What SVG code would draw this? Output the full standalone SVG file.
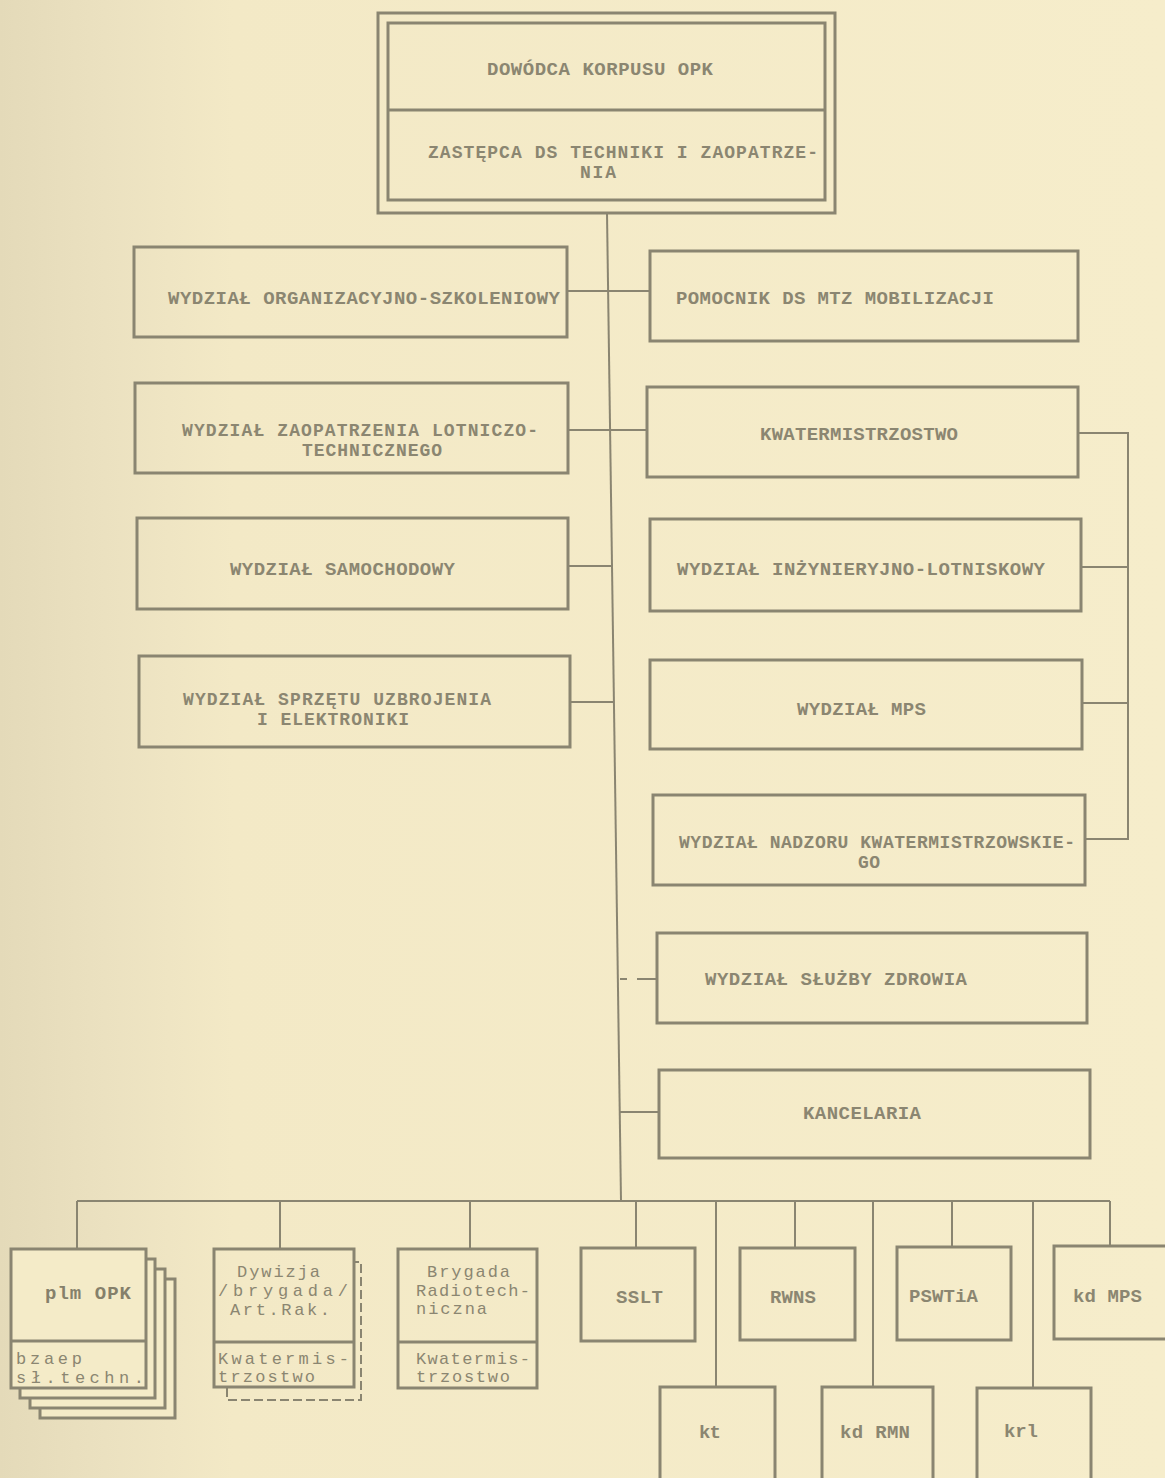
<svg xmlns="http://www.w3.org/2000/svg" width="1165" height="1478" viewBox="0 0 1165 1478">
<defs>
<linearGradient id="paper" x1="0" y1="0" x2="1" y2="0">
<stop offset="0" stop-color="#e4dab9"/>
<stop offset="0.09" stop-color="#ebe1c0"/>
<stop offset="0.2" stop-color="#f3e9c6"/>
<stop offset="1" stop-color="#f6edcb"/>
</linearGradient>
<style>
.box{fill:none;stroke:#8a8571;stroke-width:3}
.boxf{fill:#f4ebc8;stroke:#8a8571;stroke-width:3}
.ln{fill:none;stroke:#8a8571;stroke-width:2}
.dash{fill:none;stroke:#8a8571;stroke-width:2;stroke-dasharray:9 4}
.t{font-family:"Liberation Mono","DejaVu Sans Mono",monospace;font-size:19px;font-weight:bold;fill:#8b8671}
.t2{font-family:"Liberation Mono","DejaVu Sans Mono",monospace;font-size:18px;font-weight:bold;fill:#8b8671}
.tl{font-family:"Liberation Mono","DejaVu Sans Mono",monospace;font-size:17px;fill:#8b8671}
.tb{font-family:"Liberation Mono","DejaVu Sans Mono",monospace;font-size:19px;font-weight:bold;fill:#85806b}
</style>
</defs>
<rect x="0" y="0" width="1165" height="1478" fill="url(#paper)"/>

<g id="connectors">
<line class="ln" x1="607" y1="213" x2="621" y2="1201"/>
<line class="ln" x1="567" y1="291" x2="650" y2="291"/>
<line class="ln" x1="568" y1="430" x2="647" y2="430"/>
<line class="ln" x1="568" y1="566" x2="612" y2="566"/>
<line class="ln" x1="570" y1="702" x2="614" y2="702"/>
<path class="ln" d="M1078,433 H1128 V839 H1085"/>
<line class="ln" x1="1081" y1="567" x2="1128" y2="567"/>
<line class="ln" x1="1082" y1="703" x2="1128" y2="703"/>
<line class="ln" x1="620" y1="979" x2="627" y2="979"/>
<line class="ln" x1="637" y1="979" x2="657" y2="979"/>
<line class="ln" x1="620" y1="1112" x2="659" y2="1112"/>
<line class="ln" x1="77" y1="1201" x2="1110" y2="1201"/>
<line class="ln" x1="77" y1="1201" x2="77" y2="1249"/>
<line class="ln" x1="280" y1="1201" x2="280" y2="1249"/>
<line class="ln" x1="470" y1="1201" x2="470" y2="1249"/>
<line class="ln" x1="636" y1="1201" x2="636" y2="1248"/>
<line class="ln" x1="716" y1="1201" x2="716" y2="1387"/>
<line class="ln" x1="795" y1="1201" x2="795" y2="1248"/>
<line class="ln" x1="873" y1="1201" x2="873" y2="1387"/>
<line class="ln" x1="952" y1="1201" x2="952" y2="1247"/>
<line class="ln" x1="1033" y1="1201" x2="1033" y2="1388"/>
<line class="ln" x1="1110" y1="1201" x2="1110" y2="1246"/>
</g>

<g id="dowodca">
<rect class="box" x="378" y="13" width="457" height="200" stroke-width="3.5"/>
<rect class="box" x="388" y="23" width="437" height="177"/>
<line class="box" x1="388" y1="110" x2="825" y2="110"/>
<text class="t" x="487" y="75" textLength="226" lengthAdjust="spacing">DOWÓDCA KORPUSU OPK</text>
<text class="t2" x="428" y="158" textLength="390" lengthAdjust="spacing">ZASTĘPCA DS TECHNIKI I ZAOPATRZE-</text>
<text class="t2" x="580" y="178" textLength="36" lengthAdjust="spacing">NIA</text>
</g>

<g id="wydz-org">
<rect class="box" x="134" y="247" width="433" height="90"/>
<text class="t" x="168" y="304" textLength="392" lengthAdjust="spacing">WYDZIAŁ ORGANIZACYJNO-SZKOLENIOWY</text>
</g>
<g id="wydz-zaop">
<rect class="box" x="135" y="383" width="433" height="90"/>
<text class="t2" x="182" y="436" textLength="356" lengthAdjust="spacing">WYDZIAŁ ZAOPATRZENIA LOTNICZO-</text>
<text class="t2" x="302" y="456" textLength="140" lengthAdjust="spacing">TECHNICZNEGO</text>
</g>
<g id="wydz-sam">
<rect class="box" x="137" y="518" width="431" height="91"/>
<text class="t" x="230" y="575" textLength="225" lengthAdjust="spacing">WYDZIAŁ SAMOCHODOWY</text>
</g>
<g id="wydz-sprz">
<rect class="box" x="139" y="656" width="431" height="91"/>
<text class="t2" x="183" y="705" textLength="308" lengthAdjust="spacing">WYDZIAŁ SPRZĘTU UZBROJENIA</text>
<text class="t2" x="257" y="725" textLength="152" lengthAdjust="spacing">I ELEKTRONIKI</text>
</g>

<g id="pomocnik">
<rect class="box" x="650" y="251" width="428" height="90"/>
<text class="t" x="676" y="304" textLength="318" lengthAdjust="spacing">POMOCNIK DS MTZ MOBILIZACJI</text>
</g>
<g id="kwatermistrzostwo">
<rect class="box" x="647" y="387" width="431" height="90"/>
<text class="t" x="760" y="440" textLength="198" lengthAdjust="spacing">KWATERMISTRZOSTWO</text>
</g>
<g id="wydz-inz">
<rect class="box" x="650" y="519" width="431" height="92"/>
<text class="t" x="677" y="575" textLength="368" lengthAdjust="spacing">WYDZIAŁ INŻYNIERYJNO-LOTNISKOWY</text>
</g>
<g id="wydz-mps">
<rect class="box" x="650" y="660" width="432" height="89"/>
<text class="t" x="797" y="715" textLength="129" lengthAdjust="spacing">WYDZIAŁ MPS</text>
</g>
<g id="wydz-nadzoru">
<rect class="box" x="653" y="795" width="432" height="90"/>
<text class="t2" x="679" y="848" textLength="396" lengthAdjust="spacing">WYDZIAŁ NADZORU KWATERMISTRZOWSKIE-</text>
<text class="t2" x="858" y="868" textLength="22" lengthAdjust="spacing">GO</text>
</g>
<g id="wydz-zdrowia">
<rect class="box" x="657" y="933" width="430" height="90"/>
<text class="t" x="705" y="985" textLength="262" lengthAdjust="spacing">WYDZIAŁ SŁUŻBY ZDROWIA</text>
</g>
<g id="kancelaria">
<rect class="box" x="659" y="1070" width="431" height="88"/>
<text class="t" x="803" y="1119" textLength="118" lengthAdjust="spacing">KANCELARIA</text>
</g>

<g id="plm-opk">
<rect class="boxf" x="40" y="1279" width="135" height="139"/>
<rect class="boxf" x="30" y="1269" width="135" height="139"/>
<rect class="boxf" x="20" y="1259" width="135" height="139"/>
<rect class="boxf" x="11" y="1249" width="135" height="139"/>
<line class="box" x1="11" y1="1341" x2="146" y2="1341"/>
<text class="tb" x="45" y="1299" textLength="86" lengthAdjust="spacing">plm OPK</text>
<text class="tl" x="16" y="1364" textLength="66" lengthAdjust="spacing">bzaep</text>
<text class="tl" x="16" y="1383" textLength="128" lengthAdjust="spacing">sł.techn.</text>
</g>
<g id="dywizja">
<path class="dash" d="M227,1388 V1400 H361 V1262 H355"/>
<rect class="box" x="214" y="1249" width="140" height="138"/>
<line class="box" x1="214" y1="1342" x2="354" y2="1342"/>
<text class="tl" x="237" y="1277" textLength="83" lengthAdjust="spacing">Dywizja</text>
<text class="tl" x="218" y="1296" textLength="130" lengthAdjust="spacing">/brygada/</text>
<text class="tl" x="230" y="1315" textLength="100" lengthAdjust="spacing">Art.Rak.</text>
<text class="tl" x="218" y="1364" textLength="131" lengthAdjust="spacing">Kwatermis-</text>
<text class="tl" x="218" y="1382" textLength="97" lengthAdjust="spacing">trzostwo</text>
</g>
<g id="brygada">
<rect class="box" x="398" y="1249" width="139" height="139"/>
<line class="box" x1="398" y1="1342" x2="537" y2="1342"/>
<text class="tl" x="427" y="1277" textLength="83" lengthAdjust="spacing">Brygada</text>
<text class="tl" x="416" y="1296" textLength="114" lengthAdjust="spacing">Radiotech-</text>
<text class="tl" x="416" y="1314" textLength="71" lengthAdjust="spacing">niczna</text>
<text class="tl" x="416" y="1364" textLength="114" lengthAdjust="spacing">Kwatermis-</text>
<text class="tl" x="416" y="1382" textLength="94" lengthAdjust="spacing">trzostwo</text>
</g>
<g id="sslt">
<rect class="box" x="581" y="1248" width="114" height="93"/>
<text class="t" x="616" y="1303" textLength="47" lengthAdjust="spacing">SSLT</text>
</g>
<g id="rwns">
<rect class="box" x="740" y="1248" width="115" height="92"/>
<text class="t" x="770" y="1303" textLength="46" lengthAdjust="spacing">RWNS</text>
</g>
<g id="pswtia">
<rect class="box" x="897" y="1247" width="114" height="93"/>
<text class="t" x="909" y="1302" textLength="69" lengthAdjust="spacing">PSWTiA</text>
</g>
<g id="kd-mps">
<rect class="box" x="1054" y="1246" width="130" height="93"/>
<text class="t" x="1073" y="1302" textLength="69" lengthAdjust="spacing">kd MPS</text>
</g>
<g id="kt">
<rect class="box" x="660" y="1387" width="115" height="100"/>
<text class="t" x="699" y="1438" textLength="22" lengthAdjust="spacing">kt</text>
</g>
<g id="kd-rmn">
<rect class="box" x="822" y="1387" width="111" height="100"/>
<text class="t" x="840" y="1438" textLength="70" lengthAdjust="spacing">kd RMN</text>
</g>
<g id="krl">
<rect class="box" x="977" y="1388" width="114" height="100"/>
<text class="t" x="1004" y="1437" textLength="34" lengthAdjust="spacing">krl</text>
</g>
</svg>
